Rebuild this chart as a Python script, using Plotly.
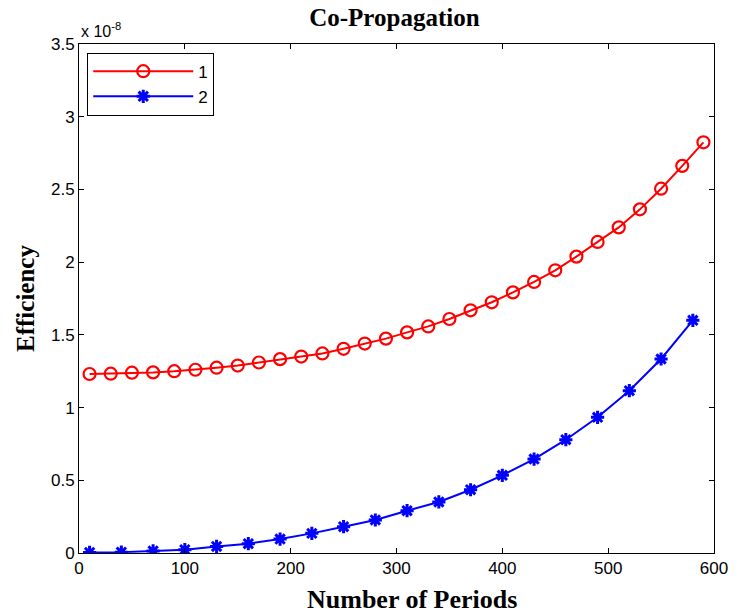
import plotly.graph_objects as go

# Data (efficiency in units of 1e-8)
periods_1 = [10, 30, 50, 70, 90, 110, 130, 150, 170, 190, 210, 230, 250, 270, 290,
             310, 330, 350, 370, 390, 410, 430, 450, 470, 490, 510, 530, 550, 570, 590]
eff_1_e8 = [1.231, 1.233, 1.240, 1.242, 1.250, 1.260, 1.274, 1.289, 1.310, 1.333,
            1.351, 1.372, 1.404, 1.440, 1.474, 1.517, 1.558, 1.609, 1.669, 1.724,
            1.792, 1.864, 1.944, 2.038, 2.139, 2.239, 2.363, 2.505, 2.662, 2.824]
periods_2 = [10, 40, 70, 100, 130, 160, 190, 220, 250, 280, 310, 340, 370, 400,
             430, 460, 490, 520, 550, 580]
eff_2_e8 = [0.004, 0.006, 0.014, 0.023, 0.045, 0.064, 0.096, 0.135, 0.181, 0.227,
            0.291, 0.351, 0.435, 0.534, 0.646, 0.779, 0.933, 1.116, 1.334, 1.600]

x_ticks = [0, 100, 200, 300, 400, 500, 600]
y_ticks = [0, 0.5, 1, 1.5, 2, 2.5, 3, 3.5]
y_ticklabels = ["0", "0.5", "1", "1.5", "2", "2.5", "3", "3.5"]

SERIF = "Liberation Serif, Times New Roman, serif"
SANS = "Liberation Sans, Arial, sans-serif"

fig = go.Figure()
fig.add_trace(go.Scatter(
    x=periods_1, y=eff_1_e8, name="1", mode="lines+markers",
    line=dict(color="#FF0000", width=2),
    marker=dict(symbol="circle-open", size=12, color="#FF0000",
                line=dict(color="#FF0000", width=2.2)),
))
fig.add_trace(go.Scatter(
    x=periods_2, y=eff_2_e8, name="2", mode="lines+markers",
    line=dict(color="#0000FF", width=2),
    marker=dict(symbol="asterisk-open", size=11, color="#0000FF",
                line=dict(color="#0000FF", width=3)),
))

axis_common = dict(
    showline=True, linecolor="black", linewidth=1, mirror="allticks",
    ticks="inside", ticklen=5, tickcolor="black", tickwidth=1,
    showgrid=False, zeroline=False,
    tickfont=dict(family=SANS, size=17, color="black"),
)

fig.update_layout(
    width=740, height=614,
    margin=dict(l=79, r=17, t=44, b=61),
    paper_bgcolor="white", plot_bgcolor="white",
    title=dict(text="<b>Co-Propagation</b>", x=0.533, xanchor="center", y=0.972, yanchor="middle",
               font=dict(family=SERIF, size=25, color="black")),
    xaxis=dict(range=[0, 600], tickvals=x_ticks, **axis_common),
    yaxis=dict(range=[0, 3.5], tickvals=y_ticks, ticktext=y_ticklabels,
               title=dict(text="<b>Efficiency</b>", standoff=9,
                          font=dict(family=SERIF, size=25, color="black")),
               **axis_common),
    legend=dict(x=0.013, y=0.983, xanchor="left", yanchor="top",
                bgcolor="white", bordercolor="black", borderwidth=1,
                font=dict(family=SANS, size=17, color="black"),
                itemwidth=100, tracegroupgap=0),
    showlegend=True,
)

# x-axis title (placed as annotation to match horizontal offset of the reference)
fig.add_annotation(
    text="<b>Number of Periods</b>", xref="paper", yref="paper", x=0.525, y=-0.092,
    xanchor="center", yanchor="middle", showarrow=False,
    font=dict(family=SERIF, size=26, color="black"),
)

fig.add_annotation(
    text="x 10<sup>-8</sup>", xref="paper", yref="paper", x=0.0, y=1.003,
    xanchor="left", yanchor="bottom", showarrow=False,
    font=dict(family=SANS, size=16, color="black"),
)

fig.write_html("out.html")
